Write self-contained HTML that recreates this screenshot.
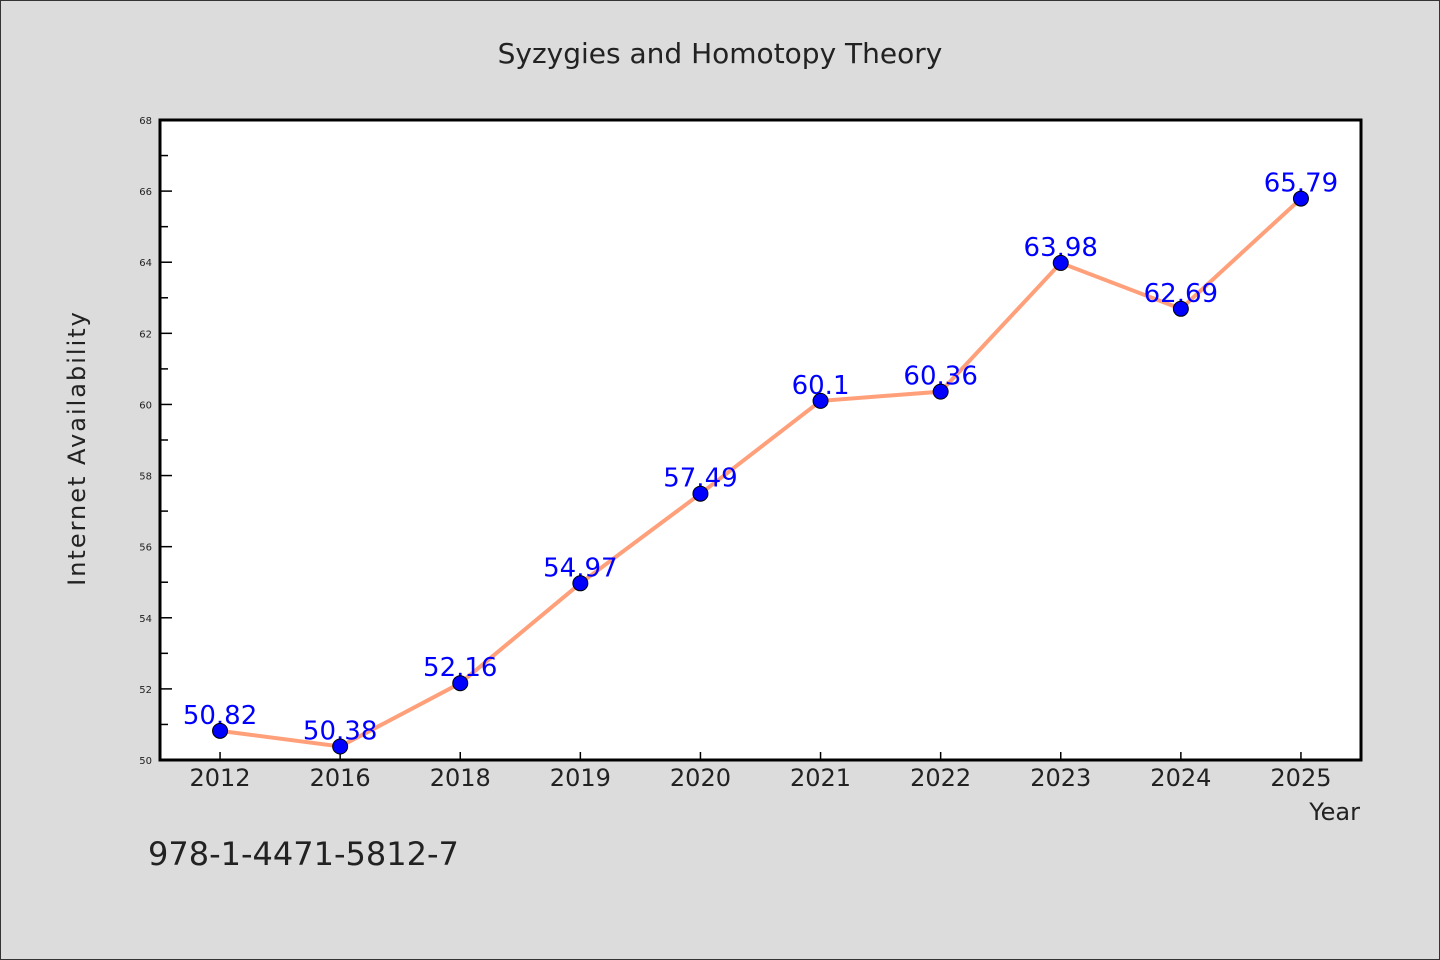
<!DOCTYPE html>
<html><head><meta charset="utf-8"><style>
body{margin:0;background:#dcdcdc;}
svg{display:block;}
text{font-family:"WenQuanYi Zen Hei","DejaVu Sans",sans-serif;}
</style></head><body>
<svg id="chart" width="1440" height="960" xmlns="http://www.w3.org/2000/svg">
<rect x="0.5" y="0.5" width="1439" height="959" fill="#dcdcdc" stroke="#333"/>
<text x="720" y="63" text-anchor="middle" font-size="28" fill="#222">Syzygies and Homotopy Theory</text>
<rect x="160" y="120" width="1201" height="640" fill="#fff"/>
<g id="yaxis"></g>
<g id="xaxis"></g>
<g id="series"></g>
<rect x="160" y="120" width="1201" height="640" fill="none" stroke="#000" stroke-width="3"/>
<text transform="translate(85,448) rotate(-90)" text-anchor="middle" font-size="24" fill="#222" letter-spacing="2">Internet Availability</text>
<text x="1360" y="820" text-anchor="end" font-size="24" fill="#222">Year</text>
<text x="148" y="865" font-size="32" fill="#222">978-1-4471-5812-7</text>
</svg>
<script>
const categories=["2012","2016","2018","2019","2020","2021","2022","2023","2024","2025"];
const values=[50.82,50.38,52.16,54.97,57.49,60.1,60.36,63.98,62.69,65.79];
const labels=["50.82","50.38","52.16","54.97","57.49","60.1","60.36","63.98","62.69","65.79"];
const yTicks=[50,52,54,56,58,60,62,64,66,68];
const NS="http://www.w3.org/2000/svg";
const x0=160,x1=1361,y0=760,y1=120,yMin=50,yMax=68;
const band=(x1-x0)/categories.length;
function xs(i){return x0+band*(i+0.5);}
function ys(v){return y0-(v-yMin)/(yMax-yMin)*(y0-y1);}
function mk(t,a,p){const e=document.createElementNS(NS,t);for(const k in a)e.setAttribute(k,a[k]);p.appendChild(e);return e;}
const ya=document.getElementById('yaxis'),xa=document.getElementById('xaxis'),sg=document.getElementById('series');
yTicks.forEach((v,i)=>{
 const y=ys(v);
 const t=mk('line',{x1:x0,x2:x0+12,y1:y,y2:y,stroke:'#000','stroke-width':1.5},ya);
 
 
 const l=mk('text',{x:x0-8,y:y+4,'text-anchor':'end','font-size':10,fill:'#222'},ya);
 l.textContent=v;
 
 
 if(i<yTicks.length-1){
  const ym=ys(v+(yTicks[i+1]-v)/2);
  const m=mk('line',{x1:x0,x2:x0+8,y1:ym,y2:ym,stroke:'#000','stroke-width':1.5},ya);
  
  
 }
});
categories.forEach((c,i)=>{
 const x=xs(i);
 const t=mk('line',{x1:x,x2:x,y1:y0,y2:y0-8,stroke:'#000','stroke-width':1.5},xa);
 
 
 const l=mk('text',{x:x,y:y0+26,'text-anchor':'middle','font-size':24,fill:'#222'},xa);
 l.textContent=c;
 
 
});
const pl=mk('polyline',{points:values.map((v,i)=>xs(i)+','+ys(v)).join(' '),fill:'none',stroke:'#ffa07a','stroke-width':4},sg);


values.forEach((v,i)=>{
 const l=mk('text',{x:xs(i),y:ys(v)-7,'text-anchor':'middle','font-size':26,fill:'#0000ff','font-family':'DejaVu Sans, sans-serif'},sg);
 l.textContent=labels[i];
 
 
});
values.forEach((v,i)=>{
 const p=mk('circle',{cx:xs(i),cy:ys(v),r:7.5,fill:'#0000ff',stroke:'#000','stroke-width':1},sg);
 
 
});
</script>
</body></html>
